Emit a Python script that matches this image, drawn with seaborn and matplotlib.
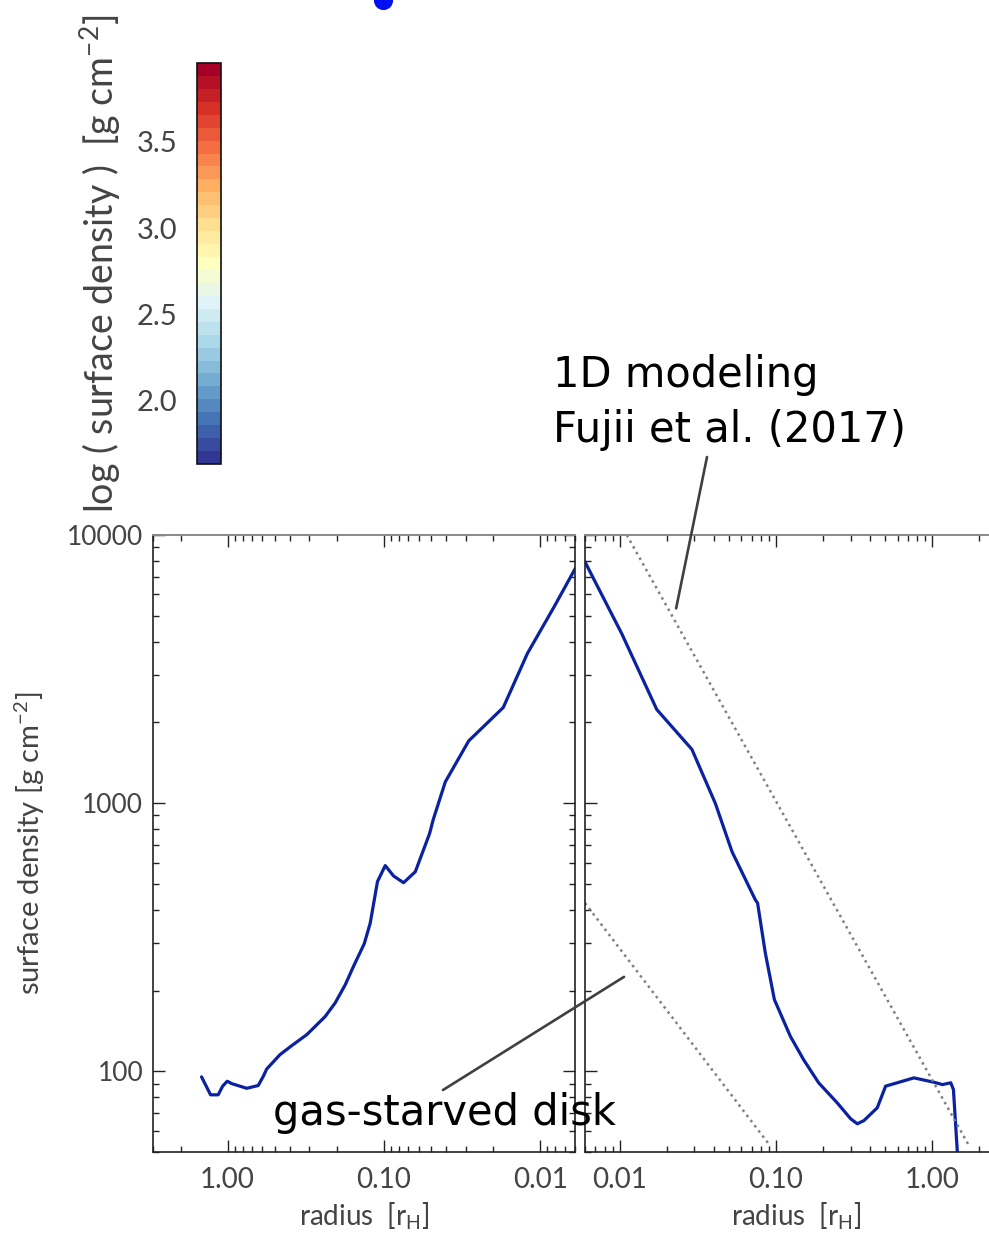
import numpy as np
import pandas as pd
import matplotlib
matplotlib.use("Agg")
import matplotlib as mpl
import matplotlib.pyplot as plt
import seaborn as sns
from matplotlib.ticker import FixedLocator, LogLocator, FuncFormatter, NullFormatter, MultipleLocator

# ---------------- data ----------------
left_radius = [1.468, 1.285, 1.149, 1.076, 1.006, 0.943, 0.755, 0.637, 0.591, 0.562,
               0.462, 0.389, 0.3115, 0.2378, 0.205, 0.177, 0.1567, 0.1337, 0.1224,
               0.110, 0.0981, 0.0868, 0.0749, 0.063, 0.051, 0.0485, 0.0405, 0.0287,
               0.01726, 0.01211, 0.00818, 0.00594]
left_sigma = [95.3, 81.7, 81.7, 88.0, 91.8, 90.0, 86.4, 88.5, 95.8, 102,
              115.4, 124.6, 137, 160, 180, 210, 246, 299, 357,
              510, 585, 535, 505, 555, 772, 865, 1201, 1707,
              2273, 3610, 5385, 7550]

right_radius = [0.00597, 0.0103, 0.01726, 0.02896, 0.0409, 0.0523, 0.0737, 0.0762,
                0.0854, 0.0976, 0.1235, 0.150, 0.1875, 0.246, 0.30, 0.331, 0.365,
                0.444, 0.502, 0.762, 1.024, 1.159, 1.31, 1.363, 1.46]
right_sigma = [7980, 4290, 2235, 1587, 998, 659, 436, 424,
               276, 185, 135, 110.5, 90.5, 76.3, 66.5, 63.7, 65.5,
               73.1, 88, 94.5, 91, 89.2, 90.6, 85.5, 45]

fujii_radius = [0.0111, 1.74]
fujii_sigma = [10000, 52]
starved_radius = [0.006, 0.092]
starved_sigma = [424, 52.6]

cbar_ticks = [2.0, 2.5, 3.0, 3.5]
cbar_range = [1.635, 3.956]
cbar_levels = 31

y_ticks = [100, 1000, 10000]
x_ticks = [0.01, 0.1, 1.0]

dot_x = [383 / 989]
dot_y = [1.0]

# ---------------- style ----------------
sns.set_theme(style="ticks")
plt.rcParams["font.family"] = ["Lato", "DejaVu Sans"]
plt.rcParams["font.weight"] = "normal"
plt.rcParams["mathtext.default"] = "regular"

W, H = 989, 1240
fig = plt.figure(figsize=(W / 100, H / 100), dpi=100)

TXT = "#444444"
BLUE = "#0a22a0"

def fx(px):
    return px / W

def fy(py):
    return 1 - py / H

axw = (575 - 153) / W
axb = fy(1152)
axh = (1152 - 535) / H
ax_l = fig.add_axes([fx(153), axb, axw, axh])
ax_r = fig.add_axes([fx(585), axb, axw, axh])

df_l = pd.DataFrame({"radius": left_radius, "sigma": left_sigma})
df_r = pd.DataFrame({"radius": right_radius, "sigma": right_sigma})
df_f = pd.DataFrame({"radius": fujii_radius, "sigma": fujii_sigma})
df_s = pd.DataFrame({"radius": starved_radius, "sigma": starved_sigma})

for ax in (ax_l, ax_r):
    ax.set_xscale("log")
    ax.set_yscale("log")

sns.lineplot(data=df_l, x="radius", y="sigma", ax=ax_l, sort=False, estimator=None,
             color=BLUE, lw=2.3)
sns.lineplot(data=df_r, x="radius", y="sigma", ax=ax_r, sort=False, estimator=None,
             color=BLUE, lw=2.3)
sns.lineplot(data=df_f, x="radius", y="sigma", ax=ax_r, sort=False, estimator=None,
             color="#808080", lw=1.8, linestyle=(0, (1, 1.6)))
sns.lineplot(data=df_s, x="radius", y="sigma", ax=ax_r, sort=False, estimator=None,
             color="#808080", lw=1.8, linestyle=(0, (1, 1.6)))

ax_l.set_xlim(3.0, 0.006)
ax_r.set_xlim(0.006, 3.0)

for ax in (ax_l, ax_r):
    ax.set_ylim(50, 10000)
    ax.yaxis.set_major_locator(FixedLocator(y_ticks))
    ax.yaxis.set_major_formatter(FuncFormatter(lambda v, p: "%d" % v))
    ax.yaxis.set_minor_locator(LogLocator(base=10, subs=np.arange(2, 10)))
    ax.yaxis.set_minor_formatter(NullFormatter())
    ax.xaxis.set_major_locator(FixedLocator(x_ticks))
    ax.xaxis.set_major_formatter(FuncFormatter(lambda v, p: "%.2f" % v))
    ax.xaxis.set_minor_locator(LogLocator(base=10, subs=np.arange(2, 10)))
    ax.xaxis.set_minor_formatter(NullFormatter())
    ax.tick_params(which="both", direction="in", top=True, right=True,
                   colors="#222222", labelcolor=TXT)
    ax.tick_params(axis="x", labelsize=20)
    ax.tick_params(axis="y", labelsize=19)
    ax.tick_params(which="major", length=8.5, width=1.0)
    ax.tick_params(which="minor", length=4.3, width=1.0)
    ax.tick_params(axis="x", which="major", pad=11)
    ax.tick_params(axis="y", which="major", pad=7)
    for s in ("left", "right", "bottom"):
        ax.spines[s].set_color("#222222")
        ax.spines[s].set_linewidth(1.2)
    ax.spines["top"].set_color("#8a8a8a")
    ax.spines["top"].set_linewidth(1.4)
    ax.set_xlabel(r"radius  [r$_{H}$]", fontsize=20, color=TXT)
    ax.xaxis.set_label_coords(0.5, -(1200 - 1152) / (1152 - 535))
    ax.set_facecolor("none")

ax_l.set_ylabel(r"surface density [g cm$^{-2}$]", fontsize=21, color=TXT)
ax_l.yaxis.set_label_coords(-(153 - 47) / (575 - 153), 0.5)
ax_r.set_ylabel("")
ax_r.tick_params(axis="y", labelleft=False)

# ---------------- colorbar ----------------
cax = fig.add_axes([fx(197), fy(464), (221 - 197) / W, (464 - 63) / H])
cmap = mpl.colormaps["RdYlBu_r"].resampled(cbar_levels)
norm = mpl.colors.Normalize(vmin=cbar_range[0], vmax=cbar_range[1])
sm = mpl.cm.ScalarMappable(norm=norm, cmap=cmap)
cbar = fig.colorbar(sm, cax=cax, ticks=cbar_ticks, ticklocation="left")
cbar.ax.yaxis.set_major_formatter(FuncFormatter(lambda v, p: "%.1f" % v))
cbar.ax.yaxis.set_minor_locator(MultipleLocator(0.1))
cbar.outline.set_edgecolor("#111111")
cbar.outline.set_linewidth(1.2)
cax.tick_params(which="both", direction="in", left=True, right=True,
                labelleft=True, labelright=False, colors="#222222",
                labelcolor=TXT, labelsize=21)
cax.tick_params(which="major", length=4, width=1.0, pad=14)
cax.tick_params(which="minor", length=2.2, width=0.9)
fig.text(fx(100), fy(263.5), r"log ( surface density )  [g cm$^{-2}$]",
         rotation=90, ha="center", va="center", fontsize=27, color=TXT)

# ---------------- cropped blue marker from plot above ----------------
ov = fig.add_axes([0, 0, 1, 1], zorder=-1)
ov.set_xlim(0, 1)
ov.set_ylim(0, 1)
ov.axis("off")
ov.scatter(dot_x, dot_y, s=190, color="#0010f0", clip_on=False, linewidths=0)

# ---------------- annotations ----------------
ann_font = dict(fontsize=30, color="black", family=["DejaVu Sans"], weight="normal")
fig.text(fx(553), fy(387), "1D modeling", va="baseline", ha="left", **ann_font)
fig.text(fx(553), fy(442), "Fujii et al. (2017)", va="baseline", ha="left", **ann_font)
fig.text(fx(273), fy(1125), "gas-starved disk", va="baseline", ha="left", zorder=10, **ann_font)

ax_r.annotate("", xy=(0.02296, 5325), xycoords="data",
              xytext=(fx(707), fy(457)), textcoords="figure fraction",
              arrowprops=dict(arrowstyle="-", color="#404040", lw=1.9,
                              shrinkA=0, shrinkB=0), annotation_clip=False)
ax_r.annotate("", xy=(0.01066, 225), xycoords="data",
              xytext=(fx(443), fy(1090)), textcoords="figure fraction",
              arrowprops=dict(arrowstyle="-", color="#404040", lw=1.9,
                              shrinkA=0, shrinkB=0), annotation_clip=False)

fig.savefig("out.png", dpi=100)
